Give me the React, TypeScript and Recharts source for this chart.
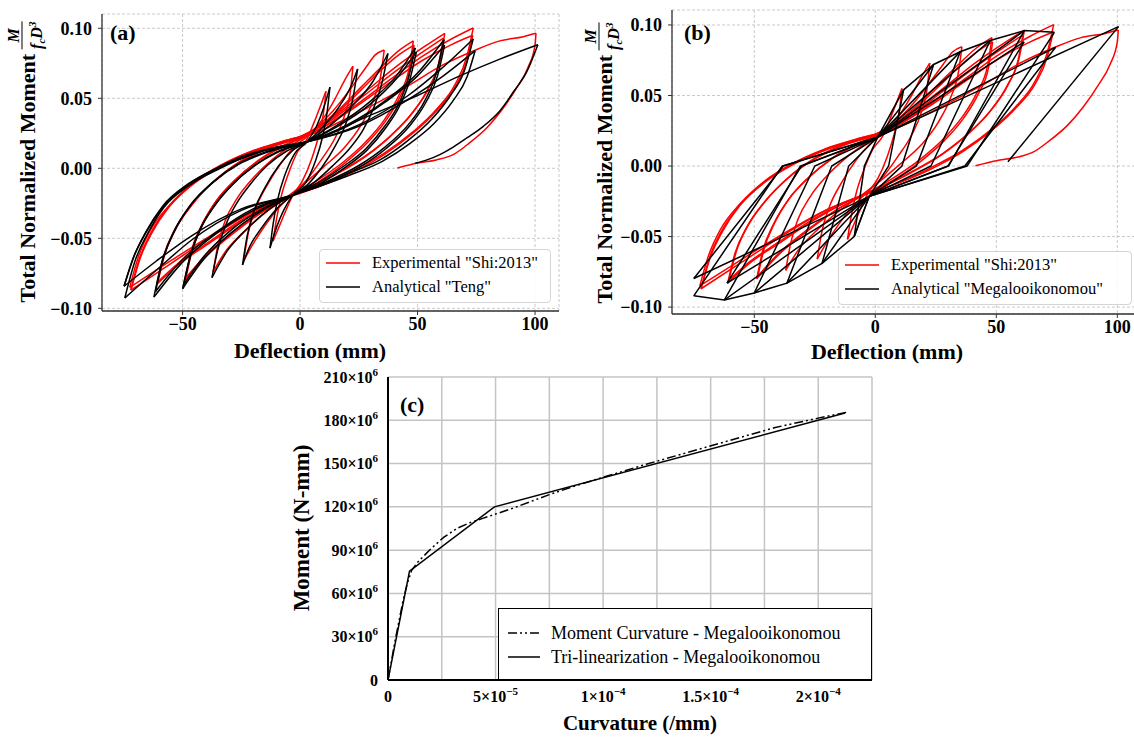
import React from "react";
import { LineChart, Line, XAxis, YAxis, CartesianGrid } from "recharts";

type Pt = [number, number];

const SERIF = "'Liberation Serif', 'Times New Roman', serif";

// ---- Shi:2013 experiment (normalized moment vs deflection, mm) ----
// reloading half-cycles: negative peak -> positive peak
const shiUp: Pt[][] = [
  [[-11.5, -0.052], [-10, -0.036], [-8, -0.02], [-5, -0.004], [-1, 0.012], [3, 0.021], [6, 0.033], [9, 0.046], [11, 0.055]],
  [[-24, -0.066], [-22, -0.046], [-19, -0.029], [-14, -0.012], [-8, 0.004], [-2, 0.016], [4, 0.024], [10, 0.036], [15, 0.05], [19, 0.063], [22.5, 0.073]],
  [[-37, -0.074], [-35, -0.055], [-32, -0.038], [-27, -0.022], [-20, -0.007], [-12, 0.006], [-4, 0.016], [4, 0.025], [14, 0.041], [22, 0.058], [28, 0.072], [32, 0.081], [35.8, 0.0845]],
  [[-49, -0.08], [-46.5, -0.06], [-42, -0.041], [-36, -0.024], [-28, -0.009], [-18, 0.005], [-8, 0.015], [2, 0.023], [14, 0.038], [26, 0.058], [35, 0.073], [42, 0.084], [48.2, 0.091]],
  [[-48.5, -0.078], [-46, -0.059], [-41.5, -0.04], [-35.5, -0.023], [-27.5, -0.008], [-17.5, 0.006], [-7.5, 0.016], [2, 0.023], [14, 0.037], [26, 0.056], [35, 0.071], [42, 0.081], [48.5, 0.088]],
  [[-61, -0.083], [-58, -0.062], [-53, -0.043], [-46, -0.026], [-37, -0.01], [-26, 0.004], [-14, 0.014], [-2, 0.021], [12, 0.034], [28, 0.055], [42, 0.074], [53, 0.087], [61.6, 0.0964]],
  [[-60.5, -0.081], [-57.5, -0.061], [-52.5, -0.042], [-45.5, -0.025], [-36.5, -0.009], [-25.5, 0.005], [-13.5, 0.015], [-2, 0.021], [12, 0.033], [28, 0.053], [42, 0.071], [53, 0.084], [61, 0.093]],
  [[-72.5, -0.085], [-69, -0.064], [-64, -0.045], [-56, -0.027], [-46, -0.011], [-34, 0.002], [-21, 0.012], [-8, 0.019], [6, 0.026], [22, 0.043], [38, 0.063], [52, 0.08], [64, 0.092], [73.7, 0.1002]],
  [[-72, -0.087], [-68.5, -0.065], [-63.5, -0.046], [-55.5, -0.027], [-45.5, -0.011], [-33.5, 0.002], [-20.5, 0.012], [-7.5, 0.019], [6, 0.026], [22, 0.042], [38, 0.061], [52, 0.077], [64, 0.088], [73.5, 0.095]],
  [[-72, -0.087], [-68, -0.064], [-63, -0.046], [-56, -0.028], [-46, -0.012], [-34, 0.001], [-21, 0.011], [-8, 0.018], [6, 0.025], [25, 0.04], [45, 0.058], [61, 0.074], [74, 0.084], [85, 0.091], [95, 0.094], [100.4, 0.0964]],
];

// unloading half-cycles: positive peak -> negative peak, last one is the final unload
const shiDown: Pt[][] = [
  [[11, 0.055], [10, 0.04], [8, 0.024], [5, 0.007], [1, -0.009], [-3, -0.019], [-6, -0.03], [-9, -0.042], [-11.5, -0.052]],
  [[22.5, 0.073], [21.5, 0.056], [19, 0.038], [15, 0.022], [9, 0.006], [3, -0.008], [-3, -0.018], [-9, -0.028], [-15, -0.041], [-20, -0.054], [-24, -0.066]],
  [[35.8, 0.0845], [34.5, 0.068], [31, 0.048], [26, 0.031], [19, 0.015], [10, 0.001], [1, -0.012], [-6, -0.021], [-15, -0.032], [-25, -0.047], [-32, -0.06], [-37, -0.074]],
  [[48.2, 0.091], [46.5, 0.072], [42, 0.052], [36, 0.035], [28, 0.019], [18, 0.004], [7, -0.009], [-3, -0.019], [-15, -0.03], [-28, -0.046], [-40, -0.063], [-49, -0.08]],
  [[48.5, 0.088], [46.8, 0.07], [42.5, 0.051], [36.5, 0.034], [28.5, 0.018], [18.5, 0.003], [7.5, -0.01], [-3, -0.019], [-15, -0.03], [-28, -0.045], [-40, -0.062], [-48.5, -0.078]],
  [[61.6, 0.0964], [59.5, 0.077], [55, 0.058], [48, 0.04], [39, 0.024], [28, 0.009], [15, -0.004], [3, -0.015], [-10, -0.024], [-25, -0.038], [-40, -0.055], [-52, -0.069], [-61, -0.083]],
  [[61, 0.093], [59, 0.075], [54.5, 0.057], [47.5, 0.039], [38.5, 0.023], [27.5, 0.008], [14.5, -0.005], [2.5, -0.015], [-10, -0.024], [-25, -0.037], [-40, -0.054], [-52, -0.068], [-60.5, -0.081]],
  [[73.7, 0.1002], [71, 0.08], [66, 0.06], [58, 0.042], [48, 0.026], [36, 0.011], [22, -0.002], [8, -0.013], [-4, -0.02], [-20, -0.031], [-38, -0.048], [-55, -0.066], [-72.5, -0.085]],
  [[73.5, 0.095], [71, 0.077], [66, 0.058], [58, 0.041], [48, 0.025], [36, 0.01], [22, -0.003], [8, -0.013], [-4, -0.02], [-20, -0.031], [-38, -0.049], [-55, -0.068], [-72, -0.087]],
  [[100.4, 0.0964], [100, 0.088], [97, 0.072], [92, 0.057], [86, 0.042], [79.5, 0.029], [72, 0.018], [65.4, 0.01], [58, 0.006], [50, 0.0038], [41.4, 0.0002]],
];

// ---- Teng model ----
const tengUp: Pt[][] = [
  [[-12.8, -0.057], [-11.5, -0.04], [-9.5, -0.022], [-6.5, -0.005], [-2.5, 0.01], [3, 0.019], [7, 0.03], [10, 0.043], [12.7, 0.058]],
  [[-24.5, -0.069], [-22.5, -0.048], [-19.5, -0.03], [-15, -0.014], [-9, 0.002], [-3, 0.013], [3, 0.019], [10, 0.03], [17, 0.045], [21.5, 0.058], [24.5, 0.071]],
  [[-37.5, -0.078], [-35, -0.058], [-31.5, -0.04], [-27, -0.025], [-21, -0.011], [-14, 0.002], [-6, 0.012], [3, 0.019], [13, 0.031], [23, 0.046], [31, 0.062], [37.4, 0.082]],
  [[-50, -0.086], [-47, -0.064], [-43, -0.045], [-37, -0.028], [-29, -0.012], [-20, 0.001], [-10, 0.011], [3, 0.019], [16, 0.031], [30, 0.048], [41, 0.066], [49, 0.086]],
  [[-49.5, -0.083], [-46.5, -0.062], [-42.5, -0.044], [-36.5, -0.027], [-28.5, -0.011], [-19.5, 0.002], [-9.5, 0.012], [3, 0.019], [16, 0.03], [30, 0.046], [41, 0.064], [49.5, 0.083]],
  [[-62.2, -0.092], [-59, -0.068], [-54, -0.046], [-47, -0.027], [-37, -0.01], [-26, 0.003], [-13, 0.012], [3, 0.019], [20, 0.031], [36, 0.048], [50, 0.068], [61.3, 0.092]],
  [[-61.5, -0.088], [-58.5, -0.066], [-53.5, -0.045], [-46.5, -0.026], [-36.5, -0.009], [-25.5, 0.004], [-12.5, 0.013], [3, 0.019], [20, 0.03], [36, 0.047], [50, 0.066], [61.5, 0.088]],
  [[-74.6, -0.0926], [-70, -0.065], [-65, -0.047], [-58, -0.028], [-47, -0.012], [-34, 0], [-22, 0.009], [-10, 0.015], [3, 0.019], [25, 0.031], [46, 0.052], [60, 0.071], [73.7, 0.0924]],
  [[-74.9, -0.084], [-71, -0.064], [-66, -0.047], [-59, -0.029], [-48, -0.012], [-35, 0], [-22, 0.009], [-10, 0.015], [3, 0.019], [25, 0.03], [46, 0.049], [61, 0.066], [74.5, 0.084]],
  [[-74.9, -0.0842], [-70.5, -0.062], [-65.5, -0.045], [-58.5, -0.027], [-47.5, -0.011], [-34.5, 0.001], [-22, 0.01], [-10, 0.015], [3, 0.019], [30, 0.038], [50, 0.052], [68, 0.066], [85, 0.078], [101.2, 0.0883]],
];

const tengDown: Pt[][] = [
  [[12.7, 0.058], [11.5, 0.04], [9.5, 0.022], [6.5, 0.005], [2.5, -0.01], [-3, -0.019], [-7, -0.03], [-10, -0.042], [-12.8, -0.057]],
  [[24.5, 0.071], [22.5, 0.05], [19.5, 0.032], [15, 0.016], [9, 0], [3, -0.012], [-3, -0.019], [-10, -0.029], [-17, -0.044], [-21.5, -0.056], [-24.5, -0.069]],
  [[37.4, 0.082], [35, 0.062], [31.5, 0.044], [27, 0.028], [21, 0.014], [14, 0.002], [6, -0.01], [-3, -0.019], [-13, -0.029], [-23, -0.044], [-31, -0.059], [-37.5, -0.078]],
  [[49, 0.086], [46, 0.064], [42, 0.046], [36, 0.03], [28, 0.014], [19, 0.002], [9, -0.009], [-3, -0.019], [-16, -0.03], [-30, -0.047], [-41, -0.065], [-50, -0.086]],
  [[49.5, 0.083], [46.5, 0.062], [42.5, 0.045], [36.5, 0.029], [28.5, 0.013], [19.5, 0.001], [9.5, -0.01], [-3, -0.019], [-16, -0.029], [-30, -0.045], [-41, -0.063], [-49.5, -0.083]],
  [[61.3, 0.092], [58, 0.068], [53, 0.048], [46, 0.031], [36, 0.015], [25, 0.002], [12, -0.009], [-3, -0.019], [-20, -0.03], [-36, -0.047], [-50, -0.067], [-62.2, -0.092]],
  [[61.5, 0.088], [58.5, 0.066], [53.5, 0.047], [46.5, 0.03], [36.5, 0.014], [25.5, 0.001], [12.5, -0.01], [-3, -0.019], [-20, -0.029], [-36, -0.046], [-50, -0.065], [-61.5, -0.088]],
  [[73.7, 0.0924], [70, 0.07], [64, 0.052], [56, 0.035], [46, 0.02], [34, 0.006], [20, -0.004], [8, -0.012], [-3, -0.019], [-25, -0.03], [-46, -0.051], [-60, -0.071], [-74.6, -0.0926]],
  [[74.5, 0.084], [71, 0.065], [65, 0.048], [57, 0.032], [47, 0.018], [35, 0.005], [21, -0.005], [8, -0.013], [-3, -0.019], [-25, -0.029], [-46, -0.048], [-61, -0.066], [-74.9, -0.0842]],
  [[101.2, 0.0883], [96.5, 0.069], [91, 0.055], [85, 0.041], [78, 0.03], [71, 0.0217], [65, 0.015], [59.7, 0.01], [54, 0.006], [49, 0.0036]],
];

// ---- Megalooikonomou model: piecewise-linear half-cycles ----
const megaPaths: Pt[][] = [
  [[11.7, 0.054], [5.5, 0], [-2.5, -0.0215], [-8.7, -0.05]],
  [[-8.7, -0.05], [-4.5, 0], [1, 0.0205], [11.7, 0.054], [24.1, 0.072]],
  [[24.1, 0.072], [11, 0], [-2.5, -0.0215], [-8.7, -0.05], [-22, -0.069]],
  [[-22, -0.069], [-11, 0], [1, 0.0205], [24.1, 0.072], [35.1, 0.081]],
  [[35.1, 0.081], [17, 0], [-2.5, -0.0215], [-22, -0.069], [-36.5, -0.083]],
  [[-36.5, -0.083], [-18, 0], [1, 0.0205], [35.1, 0.081], [47.5, 0.089]],
  [[47.5, 0.089], [23, 0], [-2.5, -0.0215], [-36.5, -0.083], [-50, -0.09]],
  [[-50, -0.09], [-25, 0], [1, 0.0205], [47.5, 0.089], [61.6, 0.096]],
  [[61.6, 0.096], [30.3, 0], [-2.5, -0.0215], [-50, -0.09], [-62.4, -0.095]],
  [[-62.4, -0.095], [-31, 0], [1, 0.0205], [61.5, 0.088]],
  [[61.5, 0.088], [30, 0], [-2.5, -0.0215], [-61.3, -0.083]],
  [[-61.3, -0.083], [-30.5, 0], [1, 0.0205], [61.6, 0.096], [74, 0.0948]],
  [[74, 0.0948], [37.9, 0], [-2.5, -0.0215], [-62.4, -0.095], [-75, -0.092]],
  [[-75, -0.092], [-38.5, 0], [1, 0.0205], [74.5, 0.0842]],
  [[74.5, 0.0842], [37, 0], [-2.5, -0.0215], [-75, -0.0797]],
  [[-75, -0.0797], [-38, 0], [1, 0.0205], [100.5, 0.0988]],
  [[100.5, 0.0988], [54.8, 0.003]],
];

// ---- moment-curvature (curvature 1/mm, moment N-mm) ----
const momentCurvature: Pt[] = [
  [0, 0], [1.5e-6, 12e6], [3e-6, 25e6], [5e-6, 40e6], [7e-6, 55e6], [9e-6, 67e6], [1.1e-5, 76e6],
  [1.4e-5, 82e6], [2e-5, 91e6], [2.6e-5, 99e6], [3.2e-5, 105e6], [3.8e-5, 109e6], [4.4e-5, 112e6],
  [5e-5, 115e6], [5.8e-5, 119e6], [6.6e-5, 123.5e6], [7.5e-5, 128.5e6], [8.5e-5, 133.5e6],
  [1e-4, 140.5e6], [1.2e-4, 149.5e6], [1.4e-4, 158e6], [1.6e-4, 166.5e6], [1.8e-4, 175e6],
  [2e-4, 181.5e6], [2.13e-4, 185.5e6],
];
const triLinear: Pt[] = [[0, 0], [1e-5, 75.5e6], [4.95e-5, 120e6], [2.125e-4, 185e6]];

// ---- axes ----
const deflTicks = [-50, 0, 50, 100];
const normMomentTicks = [-0.1, -0.05, 0, 0.05, 0.1];
const curvTicks = [0, 2.5e-5, 5e-5, 7.5e-5, 1e-4, 1.25e-4, 1.5e-4, 1.75e-4, 2e-4, 2.25e-4];
const curvTickLabels = ["0", "", "5×10^−5", "", "1×10^−4", "", "1.5×10^−4", "", "2×10^−4", ""];
const momentTicks = [0, 30e6, 60e6, 90e6, 120e6, 150e6, 180e6, 210e6];
const momentTickLabels = ["0", "30×10^6", "60×10^6", "90×10^6", "120×10^6", "150×10^6", "180×10^6", "210×10^6"];

const toXY = (pts: Pt[]) => pts.map(([x, y]) => ({ x, y }));
const fmtSigned = (digits: number) => (v: number) =>
  v < 0 ? `\u2212${Math.abs(v).toFixed(digits)}` : v.toFixed(digits);
const labelFor = (ticks: number[], labels: string[], v: number) => {
  const i = ticks.findIndex((t) => Math.abs(t - v) <= Math.abs(t) * 1e-6 + 1e-12);
  return i >= 0 ? labels[i] : "";
};

const SPINE = "#333";

function HysteresisChart(props: {
  width: number;
  height: number;
  margin: { top: number; right: number; bottom: number; left: number };
  xDomain: [number, number];
  yDomain: [number, number];
  model: Pt[][];
  modelCurve: "monotoneX" | "linear";
}) {
  const { width, height, margin, xDomain, yDomain, model, modelCurve } = props;
  const tickStyle = { fill: "#000", fontSize: 18, fontWeight: 700, fontFamily: SERIF };
  const shi = [...shiUp, ...shiDown];
  return (
    <LineChart width={width} height={height} margin={margin}>
      <CartesianGrid stroke="#bdbdbd" strokeDasharray="3 2" strokeWidth={0.8} />
      <XAxis
        type="number"
        dataKey="x"
        domain={xDomain}
        ticks={deflTicks}
        interval={0}
        allowDataOverflow
        height={30}
        tickSize={4}
        tickMargin={2}
        tick={tickStyle}
        tickFormatter={fmtSigned(0)}
        axisLine={{ stroke: SPINE, strokeWidth: 1.3 }}
        tickLine={{ stroke: SPINE }}
      />
      <XAxis xAxisId="top" orientation="top" type="number" domain={[0, 1]} height={0} tick={false} tickLine={false} axisLine={{ stroke: SPINE, strokeWidth: 1.3 }} />
      <YAxis
        type="number"
        domain={yDomain}
        ticks={normMomentTicks}
        interval={0}
        allowDataOverflow
        width={60}
        tickSize={4}
        tickMargin={6}
        tick={tickStyle}
        tickFormatter={fmtSigned(2)}
        axisLine={{ stroke: SPINE, strokeWidth: 1.3 }}
        tickLine={{ stroke: SPINE }}
      />
      <YAxis yAxisId="right" orientation="right" type="number" domain={[0, 1]} width={0} tick={false} tickLine={false} axisLine={{ stroke: SPINE, strokeWidth: 1.3 }} />
      {shi.map((b, i) => (
        <Line key={`shi${i}`} data={toXY(b)} dataKey="y" type="monotoneX" stroke="#ff0000" strokeWidth={1.5} dot={false} isAnimationActive={false} />
      ))}
      {model.map((b, i) => (
        <Line key={`mod${i}`} data={toXY(b)} dataKey="y" type={modelCurve} stroke="#000" strokeWidth={1.5} dot={false} isAnimationActive={false} />
      ))}
    </LineChart>
  );
}

function PowerText({ x, y, label, anchor, dy }: { x: number; y: number; label: string; anchor: "middle" | "end"; dy: string }) {
  const [base, exp] = label.split("^");
  return (
    <text x={x} y={y} dy={dy} textAnchor={anchor} fontSize={16} fontWeight={700} fill="#000" fontFamily={SERIF}>
      {base}
      {exp ? (
        <tspan dy={-7} fontSize={11}>
          {exp}
        </tspan>
      ) : null}
    </text>
  );
}

function CurvTick(p: any) {
  const label = labelFor(curvTicks, curvTickLabels, p.payload?.value);
  if (!label) return <g />;
  return <PowerText x={p.x} y={p.y} label={label} anchor="middle" dy="0.71em" />;
}

function MomentTick(p: any) {
  const label = labelFor(momentTicks, momentTickLabels, p.payload?.value);
  if (!label) return <g />;
  return <PowerText x={p.x} y={p.y} label={label} anchor="end" dy="0.35em" />;
}

function MomentCurvatureChart() {
  const frame = { stroke: "#000", strokeWidth: 2 };
  return (
    <LineChart width={600} height={378} margin={{ top: 17, right: 28, bottom: 18, left: 8 }}>
      <CartesianGrid stroke="#c4c4c4" strokeWidth={1.5} />
      <XAxis type="number" dataKey="x" domain={[0, 2.25e-4]} ticks={curvTicks} interval={0} allowDataOverflow height={40} tickSize={0} tickMargin={11} tick={<CurvTick />} tickLine={false} axisLine={frame} />
      <XAxis xAxisId="top" orientation="top" type="number" domain={[0, 1]} height={0} tick={false} tickLine={false} axisLine={frame} />
      <YAxis type="number" domain={[0, 210e6]} ticks={momentTicks} interval={0} allowDataOverflow width={80} tickSize={0} tickMargin={10} tick={<MomentTick />} tickLine={false} axisLine={frame} />
      <YAxis yAxisId="right" orientation="right" type="number" domain={[0, 1]} width={0} tick={false} tickLine={false} axisLine={frame} />
      <Line data={toXY(momentCurvature)} dataKey="y" type="linear" stroke="#000" strokeWidth={1.5} strokeDasharray="9 3 2 3 2 3" dot={false} isAnimationActive={false} />
      <Line data={toXY(triLinear)} dataKey="y" type="linear" stroke="#000" strokeWidth={1.5} dot={false} isAnimationActive={false} />
    </LineChart>
  );
}

function NormMomentLabel({ cx, cy }: { cx: number; cy: number }) {
  return (
    <div
      style={{
        position: "absolute",
        left: cx,
        top: cy,
        transform: "translate(-50%, -50%) rotate(-90deg)",
        whiteSpace: "nowrap",
        display: "flex",
        alignItems: "center",
        fontSize: 22,
        fontWeight: 700,
      }}
    >
      <span>Total Normalized Moment</span>
      <span
        style={{
          display: "inline-flex",
          flexDirection: "column",
          alignItems: "center",
          fontStyle: "italic",
          fontSize: 16,
          lineHeight: "17px",
          marginLeft: 5,
        }}
      >
        <span>M</span>
        <span style={{ borderTop: "1.2px solid #000", paddingTop: 1 }}>
          f<sub style={{ fontSize: 11, verticalAlign: "-3px" }}>c</sub>D<sup style={{ fontSize: 11, verticalAlign: "6px" }}>3</sup>
        </span>
      </span>
    </div>
  );
}

function HysLegend(props: { left: number; top: number; width: number; model: string }) {
  const row = (y: number, color: string, text: string) => (
    <div style={{ position: "absolute", left: 0, top: y - 11, height: 22, width: "100%" }}>
      <svg width={44} height={22} style={{ position: "absolute", left: 5, top: 0 }}>
        <line x1={1} y1={11} x2={35} y2={11} stroke={color} strokeWidth={1.6} />
      </svg>
      <span style={{ position: "absolute", left: 52, top: 0, lineHeight: "22px", fontSize: 16.5 }}>{text}</span>
    </div>
  );
  return (
    <div
      style={{
        position: "absolute",
        left: props.left,
        top: props.top,
        width: props.width,
        height: 54,
        boxSizing: "border-box",
        border: "1px solid #d4d4d4",
        borderRadius: 4,
        background: "rgba(255,255,255,0.85)",
      }}
    >
      {row(13, "#ff0000", 'Experimental "Shi:2013"')}
      {row(37, "#000", props.model)}
    </div>
  );
}

export default function App() {
  return (
    <div
      style={{
        position: "absolute",
        left: 0,
        top: 0,
        width: 1134,
        height: 738,
        overflow: "hidden",
        background: "#fff",
        color: "#000",
        fontFamily: SERIF,
      }}
    >
      {/* (a) Teng */}
      <div style={{ position: "absolute", left: 0, top: 0 }}>
        <HysteresisChart
          width={580}
          height={350}
          margin={{ top: 14, right: 21, bottom: 9, left: 42 }}
          xDomain={[-84.3, 110.2]}
          yDomain={[-0.1019, 0.1102]}
          model={[...tengUp, ...tengDown]}
          modelCurve="monotoneX"
        />
      </div>
      <div style={{ position: "absolute", left: 110, top: 20, fontSize: 22, fontWeight: 700 }}>(a)</div>
      <HysLegend left={319} top={249} width={232} model={'Analytical "Teng"'} />
      <NormMomentLabel cx={27} cy={162} />
      <div style={{ position: "absolute", left: 310, top: 351, transform: "translate(-50%, -50%)", fontSize: 22, fontWeight: 700, whiteSpace: "nowrap" }}>
        Deflection (mm)
      </div>

      {/* (b) Megalooikonomou */}
      <div style={{ position: "absolute", left: 610, top: 0 }}>
        <HysteresisChart
          width={560}
          height={350}
          margin={{ top: 10, right: 28, bottom: 6, left: 2 }}
          xDomain={[-84, 110.2]}
          yDomain={[-0.1049, 0.1106]}
          model={megaPaths}
          modelCurve="linear"
        />
      </div>
      <div style={{ position: "absolute", left: 684, top: 20, fontSize: 22, fontWeight: 700 }}>(b)</div>
      <HysLegend left={838} top={251} width={294} model={'Analytical "Megalooikonomou"'} />
      <NormMomentLabel cx={604} cy={163} />
      <div style={{ position: "absolute", left: 887, top: 352, transform: "translate(-50%, -50%)", fontSize: 22, fontWeight: 700, whiteSpace: "nowrap" }}>
        Deflection (mm)
      </div>

      {/* (c) moment-curvature */}
      <div style={{ position: "absolute", left: 300, top: 360 }}>
        <MomentCurvatureChart />
      </div>
      <div style={{ position: "absolute", left: 400, top: 392, fontSize: 22, fontWeight: 700 }}>(c)</div>
      <div
        style={{
          position: "absolute",
          left: 498,
          top: 608,
          width: 374,
          height: 72,
          boxSizing: "border-box",
          border: "1.5px solid #000",
          background: "#fff",
          fontSize: 18,
        }}
      >
        <svg width={40} height={72} style={{ position: "absolute", left: 8, top: 0 }}>
          <line x1={1} y1={24} x2={33} y2={24} stroke="#000" strokeWidth={1.5} strokeDasharray="9 3 2 3 2 3" />
          <line x1={1} y1={48} x2={33} y2={48} stroke="#000" strokeWidth={1.5} />
        </svg>
        <span style={{ position: "absolute", left: 52, top: 13, lineHeight: "22px", whiteSpace: "nowrap" }}>Moment Curvature - Megalooikonomou</span>
        <span style={{ position: "absolute", left: 52, top: 37, lineHeight: "22px", whiteSpace: "nowrap" }}>Tri-linearization - Megalooikonomou</span>
      </div>
      <div
        style={{
          position: "absolute",
          left: 302,
          top: 528,
          transform: "translate(-50%, -50%) rotate(-90deg)",
          fontSize: 23,
          fontWeight: 700,
          whiteSpace: "nowrap",
        }}
      >
        Moment (N-mm)
      </div>
      <div style={{ position: "absolute", left: 640, top: 723, transform: "translate(-50%, -50%)", fontSize: 21, fontWeight: 700, whiteSpace: "nowrap" }}>
        Curvature (/mm)
      </div>
    </div>
  );
}
